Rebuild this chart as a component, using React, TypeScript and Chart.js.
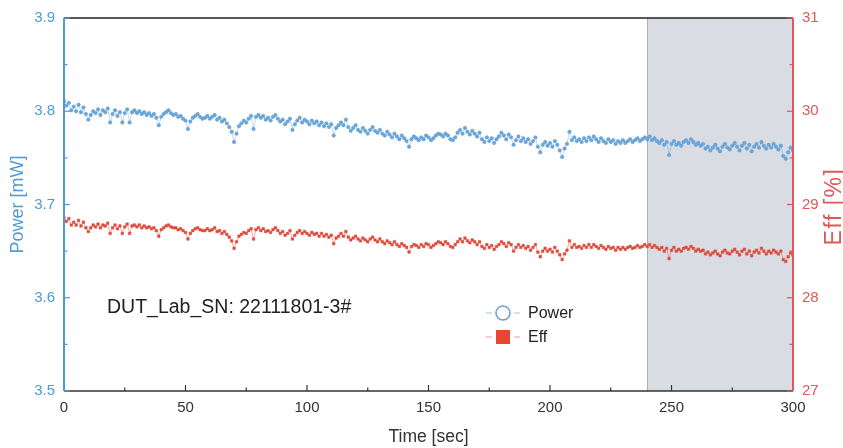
import React, { useEffect, useRef } from "react";
import { Chart, registerables } from "chart.js";

Chart.register(...registerables);

const TIME: number[] = Array.from({ length: 301 }, (_, i) => i);

const POWER: number[] = [
  3.811, 3.806, 3.809, 3.801, 3.805, 3.800, 3.807, 3.799, 3.804, 3.797,
  3.791, 3.796, 3.800, 3.798, 3.802, 3.796, 3.801, 3.799, 3.803, 3.788,
  3.797, 3.801, 3.795, 3.799, 3.788, 3.798, 3.802, 3.788, 3.799, 3.801,
  3.798, 3.800, 3.797, 3.799, 3.796, 3.798, 3.795, 3.797, 3.793, 3.785,
  3.794, 3.797, 3.799, 3.801, 3.798, 3.796, 3.797, 3.794, 3.795, 3.792,
  3.790, 3.781, 3.789, 3.793, 3.795, 3.797, 3.794, 3.792, 3.793, 3.795,
  3.792, 3.794, 3.796, 3.791, 3.793, 3.789, 3.791, 3.787, 3.783, 3.778,
  3.767, 3.776, 3.784, 3.787, 3.790, 3.788, 3.792, 3.795, 3.781, 3.794,
  3.796, 3.793, 3.795, 3.791, 3.793, 3.790, 3.794, 3.796, 3.792, 3.789,
  3.791, 3.786, 3.789, 3.792, 3.780, 3.786, 3.790, 3.793, 3.788, 3.791,
  3.789, 3.786, 3.790, 3.787, 3.789, 3.785, 3.788, 3.784, 3.787, 3.783,
  3.786, 3.774, 3.782, 3.785, 3.788, 3.785, 3.791, 3.783, 3.779, 3.782,
  3.785, 3.780, 3.778, 3.782, 3.779, 3.776, 3.780, 3.783, 3.779, 3.777,
  3.780, 3.776, 3.774, 3.778, 3.775, 3.772, 3.776, 3.773, 3.770, 3.774,
  3.771, 3.768, 3.762, 3.770, 3.773, 3.771, 3.769, 3.772, 3.770, 3.774,
  3.772, 3.769, 3.771, 3.774, 3.776, 3.775, 3.773, 3.776, 3.774, 3.770,
  3.769, 3.772, 3.777, 3.780, 3.776, 3.782, 3.778, 3.775, 3.779, 3.776,
  3.773, 3.777, 3.770, 3.767, 3.772, 3.768, 3.771, 3.766, 3.770, 3.773,
  3.777, 3.774, 3.770, 3.775, 3.772, 3.764, 3.769, 3.773, 3.768, 3.771,
  3.767, 3.770, 3.765, 3.768, 3.772, 3.762, 3.756, 3.764, 3.767, 3.763,
  3.766, 3.762, 3.768, 3.764, 3.758, 3.751, 3.760, 3.765, 3.778, 3.769,
  3.772, 3.768, 3.770, 3.767, 3.771, 3.768, 3.772, 3.769, 3.773, 3.770,
  3.767, 3.771, 3.768, 3.766, 3.770, 3.767, 3.769, 3.765, 3.768, 3.766,
  3.769, 3.766, 3.768, 3.770, 3.767, 3.769, 3.771, 3.768, 3.770, 3.772,
  3.770, 3.773, 3.769, 3.771, 3.768, 3.766, 3.769, 3.764, 3.767, 3.753,
  3.765, 3.768, 3.764, 3.766, 3.763, 3.767, 3.769, 3.766, 3.770, 3.767,
  3.764, 3.766, 3.763, 3.765, 3.760, 3.762, 3.758, 3.761, 3.764, 3.760,
  3.757, 3.762, 3.765, 3.761, 3.759, 3.763, 3.766, 3.762, 3.758, 3.763,
  3.766, 3.760, 3.764, 3.757, 3.762, 3.765, 3.761, 3.767, 3.763, 3.760,
  3.764, 3.761, 3.765, 3.762, 3.759, 3.763, 3.752, 3.749, 3.756, 3.761,
  3.758,
];

const EFF: number[] = [
  28.86, 28.82, 28.85, 28.78, 28.81, 28.78, 28.83, 28.77, 28.81, 28.75,
  28.71, 28.75, 28.78, 28.76, 28.79, 28.75, 28.78, 28.77, 28.80, 28.69,
  28.75, 28.78, 28.74, 28.77, 28.69, 28.76, 28.79, 28.69, 28.77, 28.78,
  28.76, 28.78, 28.75, 28.77, 28.75, 28.76, 28.74, 28.75, 28.72, 28.66,
  28.73, 28.75, 28.77, 28.78, 28.76, 28.75, 28.75, 28.73, 28.74, 28.72,
  28.70, 28.63, 28.69, 28.72, 28.74, 28.75, 28.73, 28.72, 28.72, 28.74,
  28.72, 28.73, 28.75, 28.71, 28.72, 28.69, 28.71, 28.68, 28.65, 28.61,
  28.53, 28.60, 28.66, 28.68, 28.70, 28.69, 28.72, 28.74, 28.63, 28.73,
  28.75, 28.72, 28.74, 28.71, 28.72, 28.70, 28.73, 28.75, 28.72, 28.69,
  28.71, 28.67, 28.69, 28.72, 28.63, 28.67, 28.70, 28.72, 28.69, 28.71,
  28.69, 28.67, 28.70, 28.68, 28.69, 28.66, 28.69, 28.66, 28.68, 28.65,
  28.67, 28.58, 28.64, 28.66, 28.69, 28.66, 28.71, 28.65, 28.62, 28.64,
  28.66, 28.63, 28.61, 28.64, 28.62, 28.60, 28.63, 28.65, 28.62, 28.60,
  28.63, 28.60, 28.58, 28.61, 28.59, 28.57, 28.60, 28.57, 28.55, 28.58,
  28.56, 28.54, 28.49, 28.55, 28.57, 28.56, 28.54, 28.57, 28.55, 28.58,
  28.57, 28.54, 28.56, 28.58, 28.60, 28.59, 28.57, 28.60, 28.58, 28.55,
  28.54, 28.57, 28.60, 28.63, 28.60, 28.64, 28.61, 28.59, 28.62, 28.60,
  28.57, 28.60, 28.55, 28.53, 28.57, 28.54, 28.56, 28.52, 28.55, 28.57,
  28.60, 28.58, 28.55, 28.59, 28.57, 28.50, 28.54, 28.57, 28.54, 28.56,
  28.53, 28.55, 28.51, 28.54, 28.57, 28.49, 28.44, 28.50, 28.53, 28.50,
  28.52, 28.49, 28.54, 28.50, 28.46, 28.41, 28.47, 28.51, 28.61, 28.54,
  28.57, 28.54, 28.55, 28.53, 28.56, 28.54, 28.57, 28.54, 28.57, 28.55,
  28.53, 28.56, 28.54, 28.52, 28.55, 28.53, 28.54, 28.51, 28.54, 28.52,
  28.54, 28.52, 28.54, 28.55, 28.53, 28.54, 28.56, 28.54, 28.55, 28.57,
  28.55, 28.57, 28.54, 28.56, 28.54, 28.52, 28.54, 28.50, 28.53, 28.42,
  28.51, 28.54, 28.50, 28.52, 28.50, 28.53, 28.54, 28.52, 28.55, 28.53,
  28.50, 28.52, 28.50, 28.51, 28.47, 28.49, 28.46, 28.48, 28.50, 28.47,
  28.45, 28.49, 28.51, 28.48, 28.47, 28.50, 28.52, 28.49, 28.46, 28.50,
  28.52, 28.47, 28.50, 28.45, 28.49, 28.51, 28.48, 28.53, 28.50, 28.47,
  28.50, 28.48, 28.51, 28.49, 28.47, 28.50, 28.41, 28.39, 28.44, 28.48,
  28.46,
];

const X_MAJOR = [0, 50, 100, 150, 200, 250, 300];
const X_MINOR = [25, 75, 125, 175, 225, 275];
const POWER_MAJOR = [3.5, 3.6, 3.7, 3.8, 3.9];
const POWER_MINOR = [3.55, 3.65, 3.75, 3.85];
const EFF_MAJOR = [27, 28, 29, 30, 31];
const EFF_MINOR = [27.5, 28.5, 29.5, 30.5];
const SHADE_RANGE = [240, 300];
const SERIES_NAMES = ["Power", "Eff"];
const EFF_TITLE = "Eff [%]";
const ANNOTATION = "DUT_Lab_SN: 22111801-3#";

const FONT = "'Liberation Sans', Arial, sans-serif";
const BLUE = "#4f9bd3";
const BLUE_PT = "#6aa8dc";
const RED = "#e0483a";
const RED_AXIS = "#e2575a";
const DARK = "#333333";

const decor = {
  id: "decor",
  beforeDatasetsDraw(chart: any) {
    const { ctx, chartArea, scales } = chart;
    const x0 = scales.x.getPixelForValue(SHADE_RANGE[0]);
    const x1 = scales.x.getPixelForValue(SHADE_RANGE[1]);
    ctx.save();
    ctx.fillStyle = "#d9dce3";
    ctx.fillRect(x0, chartArea.top, x1 - x0, chartArea.bottom - chartArea.top);
    ctx.strokeStyle = "#aab0bb";
    ctx.lineWidth = 1;
    ctx.beginPath();
    ctx.moveTo(Math.round(x0) + 0.5, chartArea.top);
    ctx.lineTo(Math.round(x0) + 0.5, chartArea.bottom);
    ctx.stroke();
    ctx.restore();
  },
  afterDraw(chart: any) {
    const { ctx, chartArea, scales } = chart;
    const { left, right, top, bottom } = chartArea;
    ctx.save();
    // top border
    ctx.strokeStyle = "#222";
    ctx.lineWidth = 1.5;
    ctx.beginPath();
    ctx.moveTo(left, top);
    ctx.lineTo(right, top);
    ctx.stroke();
    // bottom axis
    ctx.strokeStyle = DARK;
    ctx.beginPath();
    ctx.moveTo(left, bottom);
    ctx.lineTo(right, bottom);
    ctx.stroke();
    ctx.lineWidth = 1.2;
    X_MAJOR.forEach((v) => {
      const px = scales.x.getPixelForValue(v);
      ctx.beginPath();
      ctx.moveTo(px, bottom);
      ctx.lineTo(px, bottom - 6);
      ctx.stroke();
    });
    X_MINOR.forEach((v) => {
      const px = scales.x.getPixelForValue(v);
      ctx.beginPath();
      ctx.moveTo(px, bottom);
      ctx.lineTo(px, bottom - 3.5);
      ctx.stroke();
    });
    // left axis
    ctx.strokeStyle = BLUE;
    ctx.lineWidth = 2;
    ctx.beginPath();
    ctx.moveTo(left, top);
    ctx.lineTo(left, bottom);
    ctx.stroke();
    ctx.lineWidth = 1.2;
    POWER_MAJOR.forEach((v) => {
      const py = scales.y.getPixelForValue(v);
      ctx.beginPath();
      ctx.moveTo(left, py);
      ctx.lineTo(left + 6, py);
      ctx.stroke();
    });
    POWER_MINOR.forEach((v) => {
      const py = scales.y.getPixelForValue(v);
      ctx.beginPath();
      ctx.moveTo(left, py);
      ctx.lineTo(left + 3.5, py);
      ctx.stroke();
    });
    // right axis
    ctx.strokeStyle = RED_AXIS;
    ctx.lineWidth = 2;
    ctx.beginPath();
    ctx.moveTo(right, top);
    ctx.lineTo(right, bottom);
    ctx.stroke();
    ctx.lineWidth = 1.2;
    EFF_MAJOR.forEach((v) => {
      const py = scales.y1.getPixelForValue(v);
      ctx.beginPath();
      ctx.moveTo(right, py);
      ctx.lineTo(right - 6, py);
      ctx.stroke();
    });
    EFF_MINOR.forEach((v) => {
      const py = scales.y1.getPixelForValue(v);
      ctx.beginPath();
      ctx.moveTo(right, py);
      ctx.lineTo(right - 3.5, py);
      ctx.stroke();
    });

    // right axis title (reads bottom-to-top like the left one)
    ctx.save();
    ctx.translate(835, (top + bottom) / 2 + 2);
    ctx.rotate(-Math.PI / 2);
    ctx.fillStyle = RED_AXIS;
    ctx.font = `23px ${FONT}`;
    (ctx as any).letterSpacing = "1.5px";
    ctx.textAlign = "center";
    ctx.textBaseline = "middle";
    ctx.fillText(EFF_TITLE, 0, 0);
    ctx.restore();

    // annotation
    ctx.fillStyle = "#222";
    ctx.font = `19.5px ${FONT}`;
    ctx.textBaseline = "middle";
    ctx.textAlign = "left";
    ctx.fillText(ANNOTATION, 107, 308);

    // legend
    const lx = 503;
    const ly0 = 313;
    const ly1 = 337;
    ctx.lineWidth = 1;
    ctx.strokeStyle = "#9cc3e6";
    ctx.beginPath();
    ctx.moveTo(486, ly0);
    ctx.lineTo(492, ly0);
    ctx.moveTo(514, ly0);
    ctx.lineTo(520, ly0);
    ctx.stroke();
    ctx.strokeStyle = "#6fa3cc";
    ctx.lineWidth = 1.6;
    ctx.beginPath();
    ctx.arc(lx, ly0, 7, 0, Math.PI * 2);
    ctx.stroke();
    ctx.strokeStyle = "#ee9a90";
    ctx.lineWidth = 1;
    ctx.beginPath();
    ctx.moveTo(486, ly1);
    ctx.lineTo(492, ly1);
    ctx.moveTo(514, ly1);
    ctx.lineTo(520, ly1);
    ctx.stroke();
    ctx.fillStyle = "#e8472e";
    ctx.fillRect(lx - 7, ly1 - 7, 14, 14);
    ctx.fillStyle = "#222";
    ctx.font = `16px ${FONT}`;
    ctx.fillText(SERIES_NAMES[0], 528, ly0 + 1);
    ctx.fillText(SERIES_NAMES[1], 528, ly1 + 1);
    ctx.restore();
  },
};

export default function App() {
  const ref = useRef<HTMLCanvasElement | null>(null);
  useEffect(() => {
    document.body.style.margin = "0";
    const canvas = ref.current;
    if (!canvas) return;
    const chart = new Chart(canvas, {
      type: "line",
      data: {
        datasets: [
          {
            label: SERIES_NAMES[0],
            data: TIME.map((t, i) => ({ x: t, y: POWER[i] })),
            yAxisID: "y",
            borderColor: "rgba(110,165,215,0.55)",
            borderWidth: 0.8,
            pointStyle: "circle",
            pointRadius: 1.7,
            pointBackgroundColor: BLUE_PT,
            pointBorderColor: "#5c9bd1",
            pointBorderWidth: 0.6,
            tension: 0,
          },
          {
            label: SERIES_NAMES[1],
            data: TIME.map((t, i) => ({ x: t, y: EFF[i] })),
            yAxisID: "y1",
            borderColor: "rgba(225,80,65,0.6)",
            borderWidth: 0.8,
            pointStyle: "rect",
            pointRadius: 1.8,
            pointBackgroundColor: RED,
            pointBorderColor: RED,
            pointBorderWidth: 0.5,
            tension: 0,
          },
        ],
      },
      options: {
        responsive: false,
        animation: false,
        events: [],
        layout: { padding: { top: 15, left: 0, right: 0, bottom: 0 } },
        plugins: { legend: { display: false }, tooltip: { enabled: false } },
        scales: {
          x: {
            type: "linear",
            min: 0,
            max: 300,
            afterBuildTicks: (s: any) => {
              s.ticks = X_MAJOR.map((v) => ({ value: v }));
            },
            afterFit: (s: any) => {
              s.height = 57;
            },
            grid: { display: false, drawTicks: false },
            border: { display: false },
            ticks: {
              padding: 8,
              color: DARK,
              font: { family: FONT, size: 15 },
              maxRotation: 0,
              callback: (v: any) => String(v),
            },
            title: {
              display: true,
              text: "Time [sec]",
              color: DARK,
              font: { family: FONT, size: 17.5, lineHeight: 1 },
              padding: { top: 0, bottom: 2 },
            },
          },
          y: {
            type: "linear",
            position: "left",
            min: 3.5,
            max: 3.9,
            afterBuildTicks: (s: any) => {
              s.ticks = POWER_MAJOR.map((v) => ({ value: v }));
            },
            afterFit: (s: any) => {
              s.width = 64;
            },
            grid: { display: false, drawTicks: false },
            border: { display: false },
            ticks: {
              padding: 9,
              color: BLUE,
              font: { family: FONT, size: 15 },
              callback: (v: any) => Number(v).toFixed(1),
            },
            title: {
              display: true,
              text: "Power [mW]",
              color: BLUE,
              font: { family: FONT, size: 18, lineHeight: 1 },
              padding: { top: 9, bottom: 0 },
            },
          },
          y1: {
            type: "linear",
            position: "right",
            min: 27,
            max: 31,
            afterBuildTicks: (s: any) => {
              s.ticks = EFF_MAJOR.map((v) => ({ value: v }));
            },
            afterFit: (s: any) => {
              s.width = 50;
            },
            grid: { display: false, drawTicks: false },
            border: { display: false },
            ticks: {
              padding: 9,
              color: RED_AXIS,
              font: { family: FONT, size: 15 },
              callback: (v: any) => String(v),
            },
            title: { display: false },
          },
        },
      },
      plugins: [decor],
    });
    return () => chart.destroy();
  }, []);
  return (
    <div style={{ width: 843, height: 448, background: "#fff" }}>
      <canvas ref={ref} width={843} height={448} style={{ display: "block" }} />
    </div>
  );
}
